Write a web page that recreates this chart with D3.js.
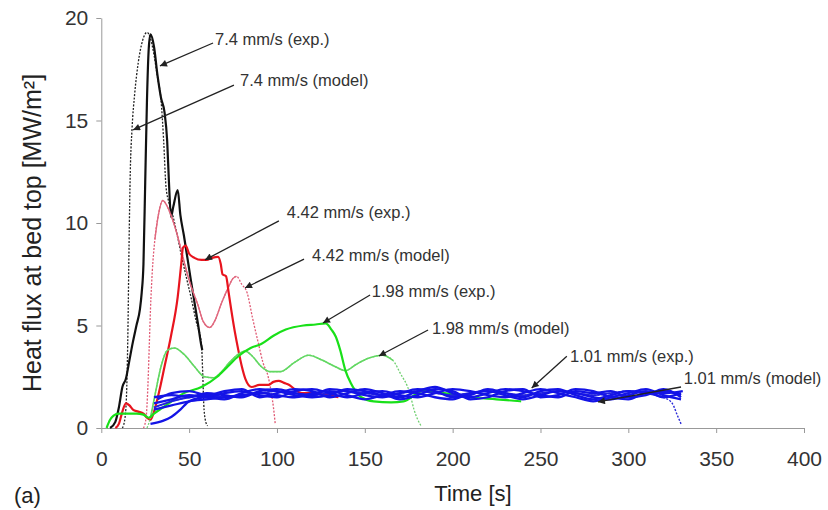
<!DOCTYPE html>
<html>
<head>
<meta charset="utf-8">
<script src="https://cdn.jsdelivr.net/npm/d3@7"></script>
<style>
  body { margin: 0; background: #fff; }
  svg text { font-family: "Liberation Sans", Arial, Helvetica, sans-serif; }
</style>
</head>
<body>
<svg id="chart"></svg>
<script>
// series as [time (s), heat flux (MW/m2)]
const blackExp = [[5,0],[8,0.3],[10,1.0],[12,2.0],[14,2.4],[16,3.3],[18,4.2],[20,5.0],[22,5.8],[23,6.6],[24,8],[25,12],[26,16],[27,18.5],[28,19.2],[30,18.6],[32,17.2],[34,16.1],[36,15.4],[37.5,14],[38.5,12],[39.7,10.3],[41,10.8],[43.5,11.6],[45,10.4],[47,9.4],[51,7.2],[55,5.1],[57,4.0],[57.5,3.8]];
const blackModel = [[12,0],[13.5,0.5],[14.5,2],[15.2,5],[15.8,9],[16.5,12.5],[17.5,14.6],[19,16.3],[21,17.8],[23.5,18.9],[26,19.3],[28,19.0],[30,18.2],[32,17.1],[34,16.0],[35.5,14],[36.8,11.8],[38.5,11.0],[40.6,10.4],[43,9.5],[45.4,8.5],[48,7.5],[51,6.4],[54,5.2],[57,4.1],[57.8,2.5],[58.3,1.2],[59.2,0.4],[60.5,0.1]];
const redExp = [[8,0],[10,0.2],[12,0.8],[14,1.2],[16,1.1],[18,0.9],[21,0.8],[24,0.7],[26,0.5],[28,0.4],[30,0.8],[33,1.8],[36,3.0],[39.7,4.5],[43.5,6.4],[45.5,8.0],[46.5,8.8],[48,8.9],[50,8.5],[53,8.3],[57,8.2],[60,8.2],[63,8.3],[66.5,8.35],[68,8.0],[69,7.5],[71,7.4],[72.5,6.6],[74,5.75],[76,4.7],[78,3.8],[80,3.0],[82,2.4],[85.6,2.0],[90,2.1],[95,2.1],[98,2.25],[101,2.3],[104,2.2],[107,2.1],[110,1.9],[114,1.7],[120,1.7],[128,1.6],[135,1.5]];
const redModel = [[24,0],[25.5,0.5],[26.5,2],[27.3,4],[28,5.8],[29,7.6],[30.5,9.2],[32.5,10.4],[35,11.1],[37,10.9],[40,10.3],[43,9.5],[46,8.5],[50,7.2],[55,6.0],[58,5.2],[61.7,4.9],[65,5.3],[68,6.0],[72,6.8],[75,7.3],[77,7.4],[80,7.0],[83,6.6],[86,5.4],[89.5,4.1],[92,3.2],[95,2.5],[97,1.6],[98,1.0],[99,0.2]];
const greenExp = [[3,0],[5,0.4],[7,0.6],[10,0.7],[15,0.7],[20,0.7],[24,0.65],[27,0.5],[30,0.7],[35,1.0],[40,1.3],[47,1.7],[57,2.0],[66,2.5],[72,3.0],[78,3.5],[85,3.9],[91,4.1],[98,4.5],[105,4.8],[115,5.0],[122,5.05],[127.7,5.1],[131,4.8],[133.5,4.45],[136,3.8],[139,2.8],[142,2.2],[144,1.9],[148,1.5],[155,1.3],[165,1.25],[172,1.3],[183,1.8],[195,1.7],[210,1.5],[225,1.4],[239,1.3]];
const greenModel = [[26,0],[28,0.5],[31,1.8],[34,3.0],[37.7,3.8],[41.6,3.9],[47,3.6],[53,3.0],[58.8,2.5],[64,2.45],[68,2.7],[73,3.2],[78,3.6],[82,3.75],[86,3.5],[91,3.0],[96,2.75],[102,2.75],[110,3.2],[118,3.55],[126,3.3],[133,3.0],[139,2.8],[145,3.1],[152,3.4],[160,3.55],[166,3.3],[170,2.7],[175.6,1.7],[178,0.9],[182,0.1]];
const blueExp1 = [[30,1.5],[40,1.6],[50,1.5],[60,1.7],[70,1.6],[80,1.5],[90,1.8],[100,1.9],[110,1.7],[120,1.6],[130,1.9],[140,1.8],[150,1.6],[160,1.5],[170,1.7],[180,1.9],[190,1.8],[200,1.5],[210,1.6],[220,1.9],[230,1.7],[240,1.5],[250,1.8],[260,1.9],[270,1.6],[280,1.4],[290,1.6],[300,1.8],[310,1.7],[320,1.8],[330,1.6]];
const blueExp2 = [[30,1.2],[40,1.4],[50,1.6],[60,1.5],[70,1.7],[80,1.8],[90,1.6],[100,1.5],[110,1.8],[120,1.9],[130,1.7],[140,1.5],[150,1.7],[160,1.8],[170,1.6],[180,1.5],[190,1.7],[200,1.9],[210,1.8],[220,1.6],[230,1.5],[240,1.7],[250,1.9],[260,1.7],[270,1.5],[280,1.3],[290,1.5],[300,1.7],[310,1.9],[320,1.6],[330,1.4]];
const blueExp3 = [[30,0.9],[40,1.1],[50,1.3],[60,1.4],[70,1.5],[80,1.6],[90,1.7],[100,1.6],[110,1.5],[120,1.7],[130,1.8],[140,1.6],[150,1.4],[160,1.6],[170,1.8],[180,1.7],[190,1.5],[200,1.4],[210,1.7],[220,1.8],[230,1.6],[240,1.4],[250,1.6],[260,1.8],[270,1.7],[280,1.5],[290,1.4],[300,1.6],[310,1.8],[320,1.5],[330,1.7]];
const blueExp4 = [[28,0.2],[35,0.35],[40,0.55],[45,0.9],[50,1.3],[60,1.5],[70,1.4],[80,1.7],[90,1.9],[100,1.8],[110,1.6],[120,1.5],[130,1.6],[140,1.9],[150,1.8],[160,1.6],[170,1.5],[180,1.8],[190,2.0],[200,1.7],[210,1.5],[220,1.7],[230,1.9],[240,1.8],[250,1.6],[260,1.5],[270,1.8],[280,1.7],[290,1.8],[300,1.5],[310,1.6],[320,1.9],[330,1.5]];
const blueExp5 = [[32,1.4],[40,1.7],[50,1.8],[60,1.6],[70,1.8],[80,1.9],[90,1.5],[100,1.7],[110,1.9],[120,1.8],[130,1.5],[140,1.7],[150,1.9],[160,1.7],[170,1.4],[180,1.6],[190,1.9],[200,1.8],[210,1.4],[220,1.5],[230,1.8],[240,1.9],[250,1.5],[260,1.6],[270,1.9],[280,1.8],[290,1.5],[300,1.4],[310,1.7],[320,1.7],[331,1.8]];
const blueModel = [[30,1.0],[40,1.3],[50,1.5],[60,1.6],[70,1.5],[80,1.6],[90,1.7],[100,1.8],[110,1.7],[120,1.6],[130,1.7],[140,1.8],[150,1.7],[160,1.6],[170,1.7],[180,1.8],[190,1.7],[200,1.6],[210,1.7],[220,1.8],[230,1.7],[240,1.6],[250,1.7],[260,1.8],[270,1.7],[280,1.6],[290,1.7],[300,1.8],[310,1.7],[320,1.5],[325,1.2],[328,0.6],[330,0.2]];

const xTicks = [0, 50, 100, 150, 200, 250, 300, 350, 400];
const yTicks = [0, 5, 10, 15, 20];

// annotations: label anchor [t, q], arrow from [t, q] to [t, q]
const labels = ["7.4 mm/s (exp.)", "7.4 mm/s (model)", "4.42 mm/s (exp.)", "4.42 mm/s (model)",
  "1.98 mm/s (exp.)", "1.98 mm/s (model)", "1.01 mm/s (exp.)", "1.01 mm/s (model)"];
const labelAt = [[64.7,18.66],[79,16.7],[105.6,10.22],[120,8.17],[154,6.37],[188.2,4.6],[266.8,3.22],[331.6,2.17]];
const arrowFrom = [[63.6,18.78],[75.5,16.73],[101.1,10.1],[115.4,8.24],[153,6.49],[186,4.78],[265,3.5],[330,2.0]];
const arrowTo = [[33.4,17.66],[18.1,14.54],[59,8.2],[81.8,6.83],[126.2,5.12],[158,3.51],[245,1.95],[282.7,1.27]];

const W = 828, H = 510;
const x = d3.scaleLinear().domain([0, 400]).range([101.3, 804]);
const y = d3.scaleLinear().domain([0, 20]).range([428, 18]);

const svg = d3.select("#chart").attr("width", W).attr("height", H);

svg.append("defs").append("marker")
  .attr("id", "head")
  .attr("viewBox", "0 0 10 10")
  .attr("refX", 10).attr("refY", 5)
  .attr("markerWidth", 10).attr("markerHeight", 7)
  .attr("markerUnits", "userSpaceOnUse")
  .attr("orient", "auto")
  .append("path").attr("d", "M0,0L10,5L0,10z").attr("fill", "#222");

// axes
const ax = svg.append("g").attr("transform", "translate(0," + y(0) + ")")
  .call(d3.axisBottom(x).tickValues(xTicks).tickSize(5).tickSizeOuter(0).tickPadding(18));
const ay = svg.append("g").attr("transform", "translate(" + x(0) + ",0)")
  .call(d3.axisLeft(y).tickValues(yTicks).tickSize(5).tickSizeOuter(0).tickPadding(8));
[ax, ay].forEach(g => {
  g.select(".domain").attr("stroke", "#999");
  g.selectAll(".tick line").attr("stroke", "#999");
  g.selectAll("text").attr("fill", "#333").style("font-size", "21px");
});

const line = d3.line()
  .x(d => x(d[0]))
  .y(d => y(d[1]))
  .curve(d3.curveMonotoneX);

function draw(data, color, width, dash) {
  svg.append("path")
    .datum(data)
    .attr("fill", "none")
    .attr("stroke", color)
    .attr("stroke-width", width)
    .attr("stroke-dasharray", dash || null)
    .attr("stroke-linejoin", "round")
    .attr("d", line);
}

// 7.4 mm/s
draw(blackModel, "#222", 1.3, "2,1.5");
draw(blackExp, "#111", 2.2);

// 4.42 mm/s
draw(redModel, "#e05a74", 1.3, "2,1.5");
draw(redModel.filter(d => d[0] >= 30 && d[0] <= 77), "#e0687e", 1.4);
draw(redExp, "#e8141e", 2.2);

// 1.98 mm/s
draw(greenModel, "#6fcf6f", 1.3, "2,1.5");
draw(greenModel.filter(d => d[0] >= 28 && d[0] <= 166), "#62d862", 1.6);
draw(greenExp, "#19e019", 2.2);

// 1.01 mm/s
draw(blueModel, "#2a2ad8", 1.4, "2,1.5");
draw(blueModel.filter(d => d[0] <= 320), "#2020e0", 1.8);
[blueExp1, blueExp2, blueExp3, blueExp4, blueExp5].forEach(s => draw(s, "#1414e6", 2.3));

// annotations
labels.forEach((txt, i) => {
  svg.append("line")
    .attr("x1", x(arrowFrom[i][0])).attr("y1", y(arrowFrom[i][1]))
    .attr("x2", x(arrowTo[i][0])).attr("y2", y(arrowTo[i][1]))
    .attr("stroke", "#222").attr("stroke-width", 1.3)
    .attr("marker-end", "url(#head)");
  svg.append("text")
    .attr("x", x(labelAt[i][0])).attr("y", y(labelAt[i][1]))
    .attr("fill", "#333").style("font-size", "16.5px")
    .text(txt);
});

// titles
svg.append("text")
  .attr("transform", "translate(32,233) rotate(-90)")
  .attr("text-anchor", "middle").attr("dominant-baseline", "central")
  .attr("fill", "#222").style("font-size", "25px")
  .text("Heat flux at bed top [MW/m²]");

svg.append("text")
  .attr("x", 473).attr("y", 501)
  .attr("text-anchor", "middle")
  .attr("fill", "#222").style("font-size", "22px")
  .text("Time [s]");

svg.append("text")
  .attr("x", 14).attr("y", 503)
  .attr("fill", "#222").style("font-size", "22px")
  .text("(a)");
</script>
</body>
</html>
